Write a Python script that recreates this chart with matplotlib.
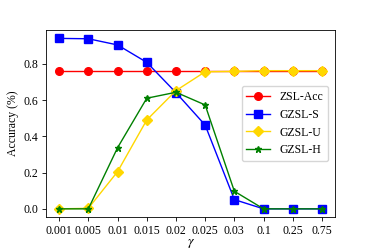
import matplotlib
matplotlib.use("Agg")
import matplotlib.pyplot as plt

gammas = ["0.001", "0.005", "0.01", "0.015", "0.02", "0.025", "0.03", "0.1", "0.25", "0.75"]
zsl_acc = [0.762, 0.762, 0.762, 0.762, 0.762, 0.762, 0.762, 0.762, 0.762, 0.762]
gzsl_s = [0.940, 0.938, 0.904, 0.808, 0.641, 0.462, 0.051, 0.0, 0.0, 0.0]
gzsl_u = [0.0, 0.003, 0.205, 0.490, 0.652, 0.756, 0.758, 0.762, 0.762, 0.762]
gzsl_h = [0.0, 0.0, 0.337, 0.610, 0.643, 0.573, 0.097, 0.0, 0.0, 0.0]

plt.rcParams['font.family'] = ['Liberation Serif', 'DejaVu Serif']
plt.rcParams['mathtext.fontset'] = 'stix'

fig = plt.figure(figsize=(3.74, 2.49), dpi=100)
ax = fig.add_axes([0.123, 0.127, 0.773, 0.753])
x = list(range(len(gammas)))
ms = 5.5
lw = 1.0
ax.plot(x, zsl_acc, color='red', marker='o', ms=ms, lw=lw, label='ZSL-Acc')
ax.plot(x, gzsl_s, color='blue', marker='s', ms=ms, lw=lw, label='GZSL-S')
ax.plot(x, gzsl_u, color='gold', marker='D', ms=ms, lw=lw, label='GZSL-U')
ax.plot(x, gzsl_h, color='green', marker='*', ms=5, lw=lw, label='GZSL-H')
ax.set_xticks(x)
ax.set_xticklabels(gammas)
ax.tick_params(labelsize=8.5, length=3, width=0.6, pad=2.5)
ax.set_ylabel('Accuracy (%)', fontsize=8.5, labelpad=3)
ax.set_xlabel(r'$\gamma$', fontsize=10, labelpad=0)
for s in ax.spines.values():
    s.set_linewidth(0.6)
ax.legend(loc='center right', fontsize=8.5, handlelength=2.0, borderaxespad=0.6)
fig.savefig('out.png', dpi=100)
